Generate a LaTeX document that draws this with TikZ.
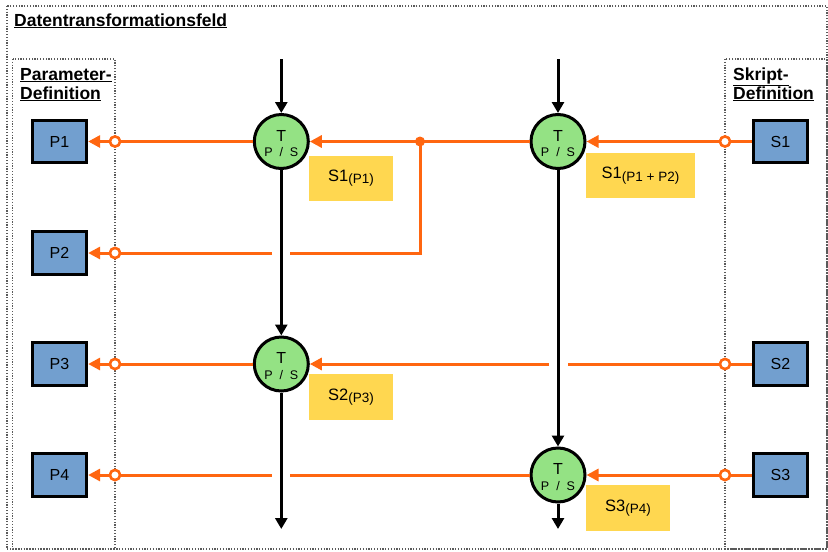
\documentclass[tikz,border=0pt]{standalone}
\usepackage{fontspec}
\setmainfont{Liberation Sans}
\usetikzlibrary{arrows.meta}
\definecolor{oc}{RGB}{255,102,16}
\definecolor{bf}{RGB}{114,159,207}
\definecolor{gf}{RGB}{148,226,132}
\definecolor{yf}{RGB}{255,215,80}
\definecolor{fr}{RGB}{90,90,90}
\tikzset{
  frame/.style={draw=fr, line width=1.2pt, dash pattern=on 1.2pt off 1.6pt},
  pbox/.style={draw=black, line width=2.8pt, fill=bf, minimum width=54.5pt, minimum height=42.5pt, inner sep=0pt, font=\fontsize{16}{16}\selectfont},
  tnode/.style={circle, draw=black, line width=3pt, fill=gf, minimum size=54pt, inner sep=0pt},
  ocirc/.style={circle, draw=oc, line width=2.5pt, fill=white, minimum size=10pt, inner sep=0pt},
  lbl/.style={fill=yf, inner sep=0pt, font=\fontsize{16.5}{16.5}\selectfont},
  oline/.style={draw=oc, line width=3pt},
  oarr/.style={oline, -{Triangle[length=12pt,width=12pt]}},
  barr/.style={draw=black, line width=3pt, -{Triangle[length=11pt,width=12pt]}},
  hdr/.style={anchor=base west, inner sep=0pt, font=\fontsize{17.5}{17.5}\selectfont\bfseries},
}
\newcommand{\mysubtxt}[1]{\raisebox{-2.5pt}{\fontsize{13.5}{13.5}\selectfont #1}}
\begin{document}
\begin{tikzpicture}[x=1pt,y=-1pt]
\useasboundingbox (0,0) rectangle (828,552);
% frames
\draw[frame] (7,6) rectangle (827,549);
\draw[frame] (12.5,59) rectangle (115,549);
\draw[frame] (725,59) rectangle (827,549);
% headers
\node[hdr] (title) at (14,26) {\underline{Datentransformationsfeld}};
\node[hdr] (ph1) at (20,80) {\underline{Parameter-}};
\node[hdr] (ph2) at (20,99) {\underline{Definition}};
\node[hdr] (sh1) at (733,80) {\underline{Skript-}};
\node[hdr] (sh2) at (733,99) {\underline{Definition}};
% parameter boxes
\node[pbox] (P1) at (59.5,141.5) {P1};
\node[pbox] (P2) at (59.5,253) {P2};
\node[pbox] (P3) at (59.5,364) {P3};
\node[pbox] (P4) at (59.5,475) {P4};
% script boxes
\node[pbox] (S1) at (780.5,141.5) {S1};
\node[pbox] (S2) at (780.5,364) {S2};
\node[pbox] (S3) at (780.5,475) {S3};
% transformation nodes
\node[tnode] (T1) at (281.3,141.5) {};
\node[tnode] (T2) at (558,141.5) {};
\node[tnode] (T3) at (281.3,364) {};
\node[tnode] (T4) at (558,475) {};
\foreach \n in {T1,T2,T3,T4}{
  \node[inner sep=0pt, font=\fontsize{16}{16}\selectfont] (\n t) at ([yshift=6pt]\n.center) {T};
  \node[inner sep=0pt, font=\fontsize{12.5}{12.5}\selectfont] (\n ps) at ([yshift=-11pt]\n.center) {P\ \ /\ \ S};
}
% labels
\node[lbl, minimum width=84pt, minimum height=45pt] (L1) at (351,178) {S1\mysubtxt{(P1)}};
\node[lbl, minimum width=109pt, minimum height=45pt] (L2) at (640.5,175.5) {S1\mysubtxt{(P1 + P2)}};
\node[lbl, minimum width=84pt, minimum height=46pt] (L3) at (351,397) {S2\mysubtxt{(P3)}};
\node[lbl, minimum width=84pt, minimum height=46pt] (L4) at (628,508) {S3\mysubtxt{(P4)}};
% open circles
\node[ocirc] (o1) at (115,141.5) {};
\node[ocirc] (o2) at (115,253) {};
\node[ocirc] (o3) at (115,364) {};
\node[ocirc] (o4) at (115,475) {};
\node[ocirc] (q1) at (725,141.5) {};
\node[ocirc] (q2) at (725,364) {};
\node[ocirc] (q3) at (725,475) {};
% helper coordinates
\coordinate (J) at (420,141.5);
\coordinate (g1r) at (290,253);
\coordinate (g1l) at (272,253);
\coordinate (g2r) at (567.5,364);
\coordinate (g2l) at (549,364);
\coordinate (g3r) at (290,475);
\coordinate (g3l) at (272,475);
\coordinate (top1) at (281.3,59);
\coordinate (top2) at (558,59);
\coordinate (bot1) at (281.3,529);
\coordinate (bot2) at (558,529);
% orange connectors
\draw[oline] (S1) -- (q1);
\draw[oarr] (q1) -- (T2);
\draw[oarr] (T2) -- (T1);
\draw[oline] (T1) -- (o1);
\draw[oarr] (o1) -- (P1);
\draw[oline] (J) |- (g1r);
\draw[oline] (g1l) -- (o2);
\draw[oarr] (o2) -- (P2);
\fill[oc] (J) circle (5pt);
\draw[oline] (S2) -- (q2);
\draw[oline] (q2) -- (g2r);
\draw[oarr] (g2l) -- (T3);
\draw[oline] (T3) -- (o3);
\draw[oarr] (o3) -- (P3);
\draw[oline] (S3) -- (q3);
\draw[oarr] (q3) -- (T4);
\draw[oline] (T4) -- (g3r);
\draw[oline] (g3l) -- (o4);
\draw[oarr] (o4) -- (P4);
% black flow
\draw[barr] (top1) -- (T1);
\draw[barr] (T1) -- (T3);
\draw[barr] (T3) -- (bot1);
\draw[barr] (top2) -- (T2);
\draw[barr] (T2) -- (T4);
\draw[barr] (T4) -- (bot2);
% redraw open circles on top
\foreach \c in {o1,o2,o3,o4,q1,q2,q3}{\node[ocirc] at (\c) {};}
\end{tikzpicture}
\end{document}
